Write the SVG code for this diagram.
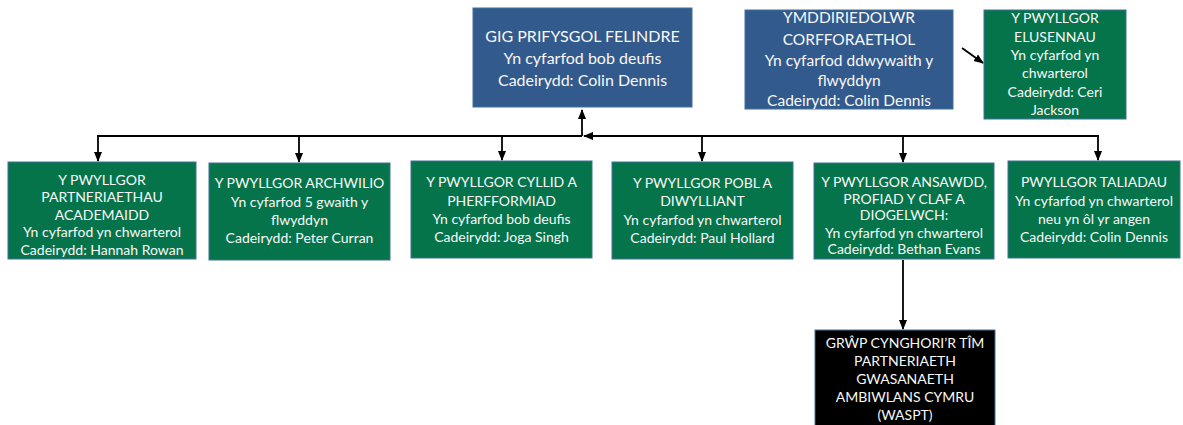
<svg xmlns="http://www.w3.org/2000/svg" width="1183" height="425" viewBox="0 0 1183 425">
<style>
.box{stroke:#41719C;stroke-width:1}
.blue{fill:#325A8C}
.green{fill:#05744A}
.black{fill:#000000}
text{font-family:Lato,"Liberation Sans",sans-serif;fill:#F8F8F8;text-anchor:middle}
.t16{font-size:16px}
.t15{font-size:15.5px}
.t14{font-size:14px}
.con{stroke:#000000;stroke-width:1.8;fill:none}
</style>
<defs>
<marker id="ah" markerUnits="userSpaceOnUse" markerWidth="10" markerHeight="10" viewBox="0 0 10 10" refX="9" refY="5" orient="auto">
<path d="M0,1 L10,5 L0,9 Z" fill="#000000"/>
</marker>
</defs>
<rect width="1183" height="425" fill="#FFFFFF"/>
<g id="connectors">
<line class="con" x1="97" y1="136" x2="582" y2="136"/>
<line class="con" x1="1099" y1="136" x2="584" y2="136" marker-end="url(#ah)"/>
<line class="con" x1="582" y1="136" x2="582" y2="110" marker-end="url(#ah)"/>
<line class="con" x1="98" y1="135" x2="98" y2="161" marker-end="url(#ah)"/>
<line class="con" x1="299" y1="136" x2="299" y2="162" marker-end="url(#ah)"/>
<line class="con" x1="502" y1="136" x2="502" y2="160" marker-end="url(#ah)"/>
<line class="con" x1="702" y1="136" x2="702" y2="161" marker-end="url(#ah)"/>
<line class="con" x1="903" y1="136" x2="903" y2="162" marker-end="url(#ah)"/>
<line class="con" x1="1098" y1="135" x2="1098" y2="160" marker-end="url(#ah)"/>
<line class="con" x1="903" y1="260" x2="903" y2="329" marker-end="url(#ah)"/>
<line class="con" x1="962" y1="48" x2="983" y2="63" marker-end="url(#ah)"/>
</g>
<g id="gig">
<rect class="box blue" x="473" y="8" width="219" height="99"/>
<text class="t16" x="582.5" y="42">GIG PRIFYSGOL FELINDRE</text>
<text class="t16" x="582.5" y="64">Yn cyfarfod bob deufis</text>
<text class="t16" x="582.5" y="86">Cadeirydd: Colin Dennis</text>
</g>
<g id="ymddiriedolwr">
<rect class="box blue" x="745" y="10" width="208" height="99"/>
<text class="t15" x="849" y="23">YMDDIRIEDOLWR</text>
<text class="t15" x="849" y="45">CORFFORAETHOL</text>
<text class="t15" x="849" y="65.5">Yn cyfarfod ddwywaith y</text>
<text class="t15" x="849" y="85.5">flwyddyn</text>
<text class="t15" x="849" y="105.5">Cadeirydd: Colin Dennis</text>
</g>
<g id="elusennau">
<rect class="box green" x="984" y="10" width="142" height="109"/>
<text class="t14" x="1055" y="23">Y PWYLLGOR</text>
<text class="t14" x="1055" y="42">ELUSENNAU</text>
<text class="t14" x="1055" y="60">Yn cyfarfod yn</text>
<text class="t14" x="1055" y="78">chwarterol</text>
<text class="t14" x="1055" y="97">Cadeirydd: Ceri</text>
<text class="t14" x="1055" y="115">Jackson</text>
</g>
<g id="academaidd">
<rect class="box green" x="8" y="162" width="188" height="97"/>
<text class="t14" x="102" y="184.5">Y PWYLLGOR</text>
<text class="t14" x="102" y="202">PARTNERIAETHAU</text>
<text class="t14" x="102" y="219.5">ACADEMAIDD</text>
<text class="t14" x="102" y="237">Yn cyfarfod yn chwarterol</text>
<text class="t14" x="102" y="254.5">Cadeirydd: Hannah Rowan</text>
</g>
<g id="archwilio">
<rect class="box green" x="209" y="163" width="181" height="97"/>
<text class="t14" x="299.5" y="188">Y PWYLLGOR ARCHWILIO</text>
<text class="t14" x="299.5" y="206.5">Yn cyfarfod 5 gwaith y</text>
<text class="t14" x="299.5" y="225">flwyddyn</text>
<text class="t14" x="299.5" y="243">Cadeirydd: Peter Curran</text>
</g>
<g id="cyllid">
<rect class="box green" x="411" y="161" width="181" height="97"/>
<text class="t14" x="501.5" y="187">Y PWYLLGOR CYLLID A</text>
<text class="t14" x="501.5" y="205.5">PHERFFORMIAD</text>
<text class="t14" x="501.5" y="224">Yn cyfarfod bob deufis</text>
<text class="t14" x="501.5" y="242">Cadeirydd: Joga Singh</text>
</g>
<g id="pobl">
<rect class="box green" x="612" y="162" width="181" height="97"/>
<text class="t14" x="702.5" y="187.5">Y PWYLLGOR POBL A</text>
<text class="t14" x="702.5" y="206">DIWYLLIANT</text>
<text class="t14" x="702.5" y="224.5">Yn cyfarfod yn chwarterol</text>
<text class="t14" x="702.5" y="242.5">Cadeirydd: Paul Hollard</text>
</g>
<g id="ansawdd">
<rect class="box green" x="814" y="163" width="180" height="96"/>
<text class="t14" x="904" y="186.5">Y PWYLLGOR ANSAWDD,</text>
<text class="t14" x="904" y="203.5">PROFIAD Y CLAF A</text>
<text class="t14" x="904" y="220">DIOGELWCH:</text>
<text class="t14" x="904" y="237.5">Yn cyfarfod yn chwarterol</text>
<text class="t14" x="904" y="254">Cadeirydd: Bethan Evans</text>
</g>
<g id="taliadau">
<rect class="box green" x="1008" y="161" width="172" height="97"/>
<text class="t14" x="1094" y="187">PWYLLGOR TALIADAU</text>
<text class="t14" x="1094" y="205.5">Yn cyfarfod yn chwarterol</text>
<text class="t14" x="1094" y="224">neu yn ôl yr angen</text>
<text class="t14" x="1094" y="242">Cadeirydd: Colin Dennis</text>
</g>
<g id="waspt">
<rect class="box black" x="815" y="330" width="180" height="100"/>
<text class="t14" x="905" y="348">GRŴP CYNGHORI’R TÎM</text>
<text class="t14" x="905" y="366">PARTNERIAETH</text>
<text class="t14" x="905" y="384">GWASANAETH</text>
<text class="t14" x="905" y="402">AMBIWLANS CYMRU</text>
<text class="t14" x="905" y="420">(WASPT)</text>
</g>
</svg>
